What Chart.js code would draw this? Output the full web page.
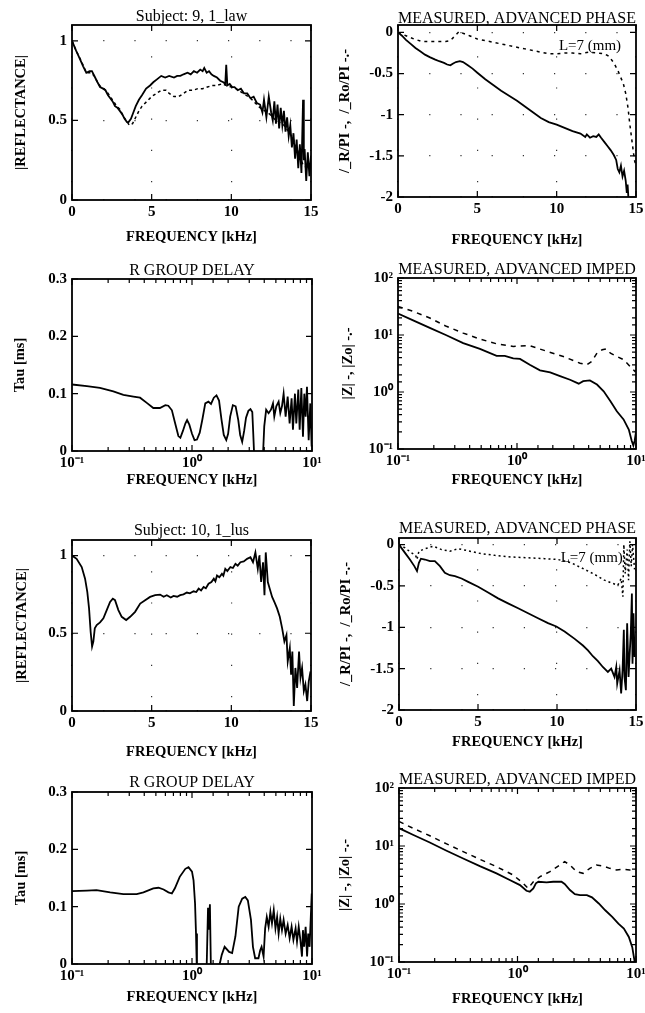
<!DOCTYPE html>
<html>
<head>
<meta charset="utf-8">
<script src="https://cdn.jsdelivr.net/npm/chart.js@4.4.1/dist/chart.umd.min.js"></script>
<style>
  body { margin: 0; background: #fff; width: 645px; height: 1013px; position: relative; overflow: hidden; }
  canvas { position: absolute; }
</style>
</head>
<body>
<canvas id="c1"></canvas>
<canvas id="c2"></canvas>
<canvas id="c3"></canvas>
<canvas id="c4"></canvas>
<canvas id="c5"></canvas>
<canvas id="c6"></canvas>
<canvas id="c7"></canvas>
<canvas id="c8"></canvas>
<script>
// ---- data: [frequency kHz, value] ----

// Subject 9, |reflectance|: measured (solid) and advanced (dashed)
const s9Refl = [[0,1.0],[0.25,0.94],[0.5,0.885],[0.7,0.84],[0.9,0.80],[1.1,0.81],[1.25,0.81],[1.45,0.77],[1.6,0.74],[1.76,0.71],[1.95,0.70],[2.1,0.69],[2.25,0.66],[2.4,0.64],[2.55,0.62],[2.7,0.59],[2.85,0.58],[3.0,0.56],[3.15,0.54],[3.3,0.51],[3.45,0.49],[3.55,0.49],[3.7,0.51],[3.85,0.55],[4.0,0.59],[4.2,0.63],[4.4,0.66],[4.65,0.70],[4.9,0.72],[5.1,0.74],[5.35,0.76],[5.6,0.78],[5.85,0.77],[6.1,0.78],[6.4,0.77],[6.6,0.78],[6.8,0.78],[7.0,0.79],[7.25,0.80],[7.45,0.79],[7.65,0.81],[7.85,0.80],[8.05,0.82],[8.2,0.81],[8.3,0.83],[8.45,0.80],[8.6,0.81],[8.75,0.79],[8.9,0.78],[9.1,0.77],[9.3,0.75],[9.5,0.74],[9.62,0.73],[9.68,0.85],[9.75,0.72],[9.9,0.73],[10.05,0.71],[10.2,0.71],[10.4,0.69],[10.6,0.70],[10.8,0.67],[11.0,0.67],[11.2,0.64],[11.4,0.65],[11.6,0.61],[11.8,0.60],[11.95,0.55],[12.05,0.63],[12.2,0.52],[12.35,0.65],[12.5,0.55],[12.6,0.50],[12.7,0.62],[12.8,0.48],[12.9,0.60],[13.0,0.45],[13.1,0.58],[13.2,0.47],[13.3,0.56],[13.4,0.43],[13.5,0.52],[13.6,0.40],[13.7,0.47],[13.8,0.33],[13.9,0.42],[14.0,0.26],[14.1,0.38],[14.2,0.20],[14.3,0.35],[14.4,0.17],[14.5,0.63],[14.55,0.25],[14.6,0.32],[14.7,0.12],[14.8,0.30],[14.9,0.15],[15.0,0.28]];
const s9ReflAdv = [[0,1.0],[0.3,0.93],[0.6,0.87],[0.9,0.80],[1.2,0.80],[1.4,0.78],[1.6,0.74],[1.8,0.71],[2.0,0.70],[2.2,0.68],[2.4,0.65],[2.6,0.62],[2.8,0.59],[3.0,0.57],[3.2,0.53],[3.4,0.50],[3.6,0.47],[3.8,0.48],[4.0,0.52],[4.2,0.56],[4.4,0.59],[4.7,0.62],[5.0,0.65],[5.3,0.67],[5.6,0.69],[5.9,0.69],[6.1,0.67],[6.4,0.65],[6.7,0.65],[7.0,0.67],[7.3,0.69],[7.6,0.69],[7.9,0.70],[8.2,0.70],[8.5,0.71],[8.8,0.72],[9.1,0.72],[9.4,0.73],[9.7,0.72],[10.0,0.71],[10.3,0.70],[10.6,0.68],[10.9,0.66],[11.2,0.64],[11.5,0.61],[11.8,0.58],[12.1,0.56],[12.4,0.54],[12.7,0.51],[13.0,0.49],[13.3,0.47],[13.6,0.43],[13.9,0.38],[14.2,0.30],[14.5,0.22],[14.8,0.20],[15.0,0.22]];

// Subject 9, phase / PI
const s9Phase = [[0,0],[0.25,-0.04],[0.5,-0.09],[0.8,-0.14],[1.1,-0.19],[1.4,-0.23],[1.7,-0.27],[2.0,-0.30],[2.35,-0.33],[2.6,-0.35],[2.9,-0.37],[3.1,-0.39],[3.3,-0.40],[3.45,-0.38],[3.65,-0.36],[3.9,-0.35],[4.1,-0.36],[4.4,-0.40],[4.7,-0.44],[5.0,-0.49],[5.5,-0.57],[6.0,-0.64],[6.5,-0.71],[7.0,-0.77],[7.5,-0.83],[8.0,-0.90],[8.5,-0.97],[9.0,-1.04],[9.5,-1.09],[10.0,-1.12],[10.5,-1.16],[11.0,-1.20],[11.5,-1.23],[11.8,-1.27],[11.9,-1.24],[12.1,-1.28],[12.3,-1.26],[12.5,-1.27],[12.65,-1.24],[12.8,-1.28],[13.0,-1.33],[13.2,-1.38],[13.4,-1.43],[13.6,-1.49],[13.75,-1.55],[13.85,-1.66],[13.95,-1.70],[14.05,-1.62],[14.15,-1.75],[14.25,-1.68],[14.35,-1.80],[14.42,-1.95],[14.47,-1.85],[14.55,-2.1]];
const s9PhaseAdv = [[0,0],[0.5,-0.04],[1.0,-0.08],[1.5,-0.11],[2.0,-0.11],[2.5,-0.11],[3.0,-0.11],[3.3,-0.10],[3.6,-0.04],[3.85,0.01],[4.1,-0.01],[4.5,-0.04],[5.0,-0.08],[5.5,-0.10],[6.0,-0.12],[6.5,-0.14],[7.0,-0.16],[7.5,-0.18],[8.0,-0.20],[8.5,-0.22],[9.0,-0.24],[9.5,-0.26],[10.0,-0.26],[10.5,-0.25],[11.0,-0.25],[11.5,-0.26],[12.0,-0.24],[12.5,-0.25],[13.0,-0.26],[13.3,-0.29],[13.6,-0.37],[13.85,-0.46],[14.0,-0.53],[14.2,-0.62],[14.35,-0.74],[14.5,-0.92],[14.6,-1.10],[14.7,-1.25],[14.8,-1.40],[14.9,-1.55],[15.0,-1.62]];

// Subject 9, group delay (ms)
const s9Delay = [[0.1,0.116],[0.133,0.113],[0.171,0.110],[0.221,0.104],[0.268,0.098],[0.325,0.095],[0.369,0.093],[0.42,0.084],[0.476,0.075],[0.54,0.075],[0.60,0.080],[0.635,0.079],[0.68,0.071],[0.72,0.050],[0.77,0.026],[0.80,0.023],[0.84,0.035],[0.88,0.048],[0.91,0.054],[0.95,0.046],[1.0,0.030],[1.05,0.019],[1.1,0.020],[1.16,0.032],[1.22,0.055],[1.29,0.083],[1.37,0.086],[1.44,0.082],[1.52,0.093],[1.60,0.097],[1.68,0.088],[1.76,0.055],[1.84,0.028],[1.93,0.019],[2.0,0.030],[2.08,0.060],[2.19,0.080],[2.31,0.078],[2.43,0.054],[2.52,0.028],[2.62,0.016],[2.72,0.035],[2.82,0.058],[2.95,0.070],[3.07,0.073],[3.18,0.068],[3.24,0.030],[3.30,-0.01],[3.9,-0.01],[4.0,0.043],[4.15,0.072],[4.35,0.066],[4.55,0.072],[4.73,0.083],[4.85,0.060],[5.04,0.078],[5.27,0.086],[5.44,0.066],[5.62,0.078],[5.80,0.100],[6.03,0.060],[6.27,0.095],[6.51,0.048],[6.76,0.092],[6.94,0.037],[7.21,0.100],[7.40,0.048],[7.69,0.107],[7.89,0.037],[8.15,0.110],[8.41,0.025],[8.63,0.100],[8.85,0.060],[9.08,0.112],[9.38,0.019],[9.68,0.083],[9.93,0.008]];

// Subject 9, impedance magnitude
const s9Imp = [[0.1,23.7],[0.134,18.1],[0.185,13.3],[0.255,9.9],[0.353,7.2],[0.488,5.7],[0.674,4.3],[0.79,4.3],[0.93,3.9],[1.06,3.8],[1.28,3.0],[1.56,2.4],[1.9,2.2],[2.3,1.9],[2.79,1.64],[3.3,1.40],[3.6,1.55],[4.1,1.60],[4.7,1.35],[5.35,1.03],[6.1,0.69],[6.9,0.46],[7.86,0.33],[8.7,0.22],[9.2,0.14],[9.5,0.115],[9.75,0.14],[10,0.2]];
const s9ImpAdv = [[0.1,31.8],[0.134,26],[0.185,19.9],[0.255,14.2],[0.353,10.8],[0.488,8.5],[0.674,7.0],[0.93,6.3],[1.28,6.5],[1.77,5.2],[2.45,4.2],[3.39,3.2],[3.86,3.0],[4.25,3.45],[4.7,4.8],[5.2,5.5],[5.6,5.7],[6.1,4.8],[6.9,4.2],[7.86,3.7],[8.93,2.8],[9.8,2.3],[10,2.4]];

// Subject 10, |reflectance|
const s10Refl = [[0,1.0],[0.29,0.979],[0.61,0.926],[0.82,0.851],[0.96,0.766],[1.07,0.66],[1.17,0.51],[1.26,0.415],[1.34,0.447],[1.43,0.532],[1.55,0.553],[1.76,0.57],[1.97,0.596],[2.18,0.649],[2.39,0.702],[2.56,0.723],[2.7,0.713],[2.91,0.649],[3.12,0.606],[3.4,0.585],[3.65,0.606],[3.96,0.638],[4.28,0.691],[4.59,0.713],[4.9,0.734],[5.22,0.745],[5.53,0.749],[5.75,0.735],[5.95,0.745],[6.2,0.73],[6.37,0.740],[6.6,0.735],[6.79,0.745],[7.0,0.75],[7.21,0.762],[7.4,0.757],[7.63,0.77],[7.8,0.765],[7.95,0.787],[8.1,0.775],[8.26,0.798],[8.4,0.79],[8.57,0.819],[8.75,0.83],[8.9,0.851],[9.0,0.835],[9.1,0.872],[9.25,0.86],[9.41,0.883],[9.5,0.87],[9.62,0.915],[9.75,0.9],[9.94,0.926],[10.1,0.92],[10.26,0.947],[10.4,0.935],[10.57,0.957],[10.78,0.962],[10.99,0.979],[11.2,0.989],[11.36,0.957],[11.51,1.02],[11.66,0.915],[11.76,1.0],[11.87,0.83],[11.99,0.957],[12.08,0.745],[12.16,1.02],[12.29,0.83],[12.41,0.787],[12.56,0.734],[12.7,0.702],[12.87,0.66],[13.04,0.606],[13.19,0.532],[13.33,0.447],[13.46,0.489],[13.54,0.319],[13.67,0.404],[13.75,0.234],[13.83,0.383],[13.92,0.032],[14.02,0.277],[14.13,0.149],[14.25,0.383],[14.34,0.213],[14.44,0.277],[14.55,0.128],[14.65,0.17],[14.76,0.064],[14.86,0.19],[14.97,0.255]];

// Subject 10, phase / PI
const s10Phase = [[0,0],[0.38,-0.10],[0.69,-0.18],[0.97,-0.26],[1.14,-0.32],[1.26,-0.22],[1.39,-0.17],[1.64,-0.18],[1.96,-0.20],[2.27,-0.20],[2.59,-0.26],[2.9,-0.34],[3.22,-0.37],[3.54,-0.38],[3.96,-0.41],[4.38,-0.45],[5.01,-0.51],[5.64,-0.58],[6.27,-0.65],[6.9,-0.71],[7.54,-0.77],[8.17,-0.83],[8.8,-0.89],[9.43,-0.95],[9.96,-0.99],[10.48,-1.05],[11.12,-1.14],[11.64,-1.22],[11.96,-1.28],[12.27,-1.35],[12.59,-1.41],[12.9,-1.48],[13.22,-1.54],[13.43,-1.50],[13.64,-1.60],[13.75,-1.48],[13.81,-1.68],[13.96,-1.52],[14.06,-1.80],[14.15,-1.52],[14.23,-1.03],[14.27,-1.60],[14.36,-1.76],[14.44,-0.95],[14.53,-1.60],[14.59,-1.36],[14.67,-1.07],[14.74,-0.59],[14.78,-1.44],[14.84,-0.83],[14.91,-1.36]];
const s10PhaseAdv = [[0,0],[0.38,-0.04],[0.8,-0.10],[1.05,-0.13],[1.14,-0.18],[1.26,-0.08],[1.64,-0.05],[2.17,-0.02],[2.69,-0.06],[3.22,-0.08],[3.75,-0.05],[4.27,-0.07],[5.22,-0.11],[6.06,-0.13],[7.12,-0.15],[8.17,-0.16],[9.22,-0.17],[10.06,-0.18],[10.9,-0.22],[11.75,-0.30],[12.38,-0.36],[13.0,-0.43],[13.54,-0.47],[13.85,-0.49],[14.06,-0.41],[14.17,-0.63],[14.23,0.0],[14.32,-0.35],[14.44,-0.06],[14.53,-0.43],[14.61,0.04],[14.7,-0.26],[14.78,0.0],[14.91,-0.30]];

// Subject 10, group delay (ms)
const s10Delay = [[0.1,0.127],[0.133,0.128],[0.16,0.129],[0.208,0.125],[0.268,0.122],[0.346,0.122],[0.394,0.125],[0.476,0.132],[0.526,0.133],[0.58,0.130],[0.636,0.125],[0.68,0.123],[0.72,0.132],[0.79,0.152],[0.88,0.166],[0.935,0.169],[1.0,0.161],[1.03,0.146],[1.06,0.106],[1.08,0.053],[1.10,-0.02],[1.32,-0.02],[1.36,0.098],[1.38,0.06],[1.41,0.104],[1.44,-0.02],[1.66,-0.01],[1.77,0.016],[1.87,0.030],[2.04,0.021],[2.16,0.019],[2.3,0.048],[2.45,0.100],[2.62,0.114],[2.78,0.117],[2.92,0.111],[3.1,0.077],[3.22,0.030],[3.36,0.010],[3.58,0.010],[3.7,0.024],[3.8,0.030],[3.95,0.013],[4.07,0.062],[4.2,0.082],[4.35,0.065],[4.5,0.091],[4.64,0.071],[4.8,0.094],[4.96,0.062],[5.12,0.082],[5.27,0.053],[5.44,0.079],[5.62,0.059],[5.8,0.077],[6.03,0.053],[6.27,0.068],[6.51,0.045],[6.76,0.065],[7.0,0.042],[7.3,0.062],[7.5,0.039],[7.75,0.065],[8.0,0.042],[8.25,0.013],[8.4,0.059],[8.6,0.030],[8.85,0.065],[9.1,0.013],[9.3,0.053],[9.55,0.030],[9.75,0.077],[9.95,0.123]];

// Subject 10, impedance magnitude
const s10Imp = [[0.1,20.3],[0.131,15.6],[0.182,11.5],[0.252,8.3],[0.348,6.1],[0.481,4.5],[0.665,3.38],[0.86,2.59],[1.05,2.12],[1.19,1.69],[1.27,1.63],[1.36,1.86],[1.43,2.27],[1.5,2.42],[1.76,2.36],[2.0,2.42],[2.35,2.42],[2.5,2.21],[2.77,1.74],[3.05,1.48],[3.37,1.42],[3.85,1.42],[4.25,1.30],[4.85,1.02],[5.5,0.78],[6.3,0.60],[7.1,0.46],[7.9,0.377],[8.7,0.270],[9.3,0.18],[9.7,0.107],[9.85,0.087]];
const s10ImpAdv = [[0.1,26.5],[0.131,20.3],[0.182,15.0],[0.252,10.9],[0.348,8.0],[0.481,5.9],[0.665,4.4],[0.92,3.16],[1.12,2.26],[1.23,1.86],[1.36,2.42],[1.55,2.96],[1.88,3.61],[2.28,4.71],[2.5,5.38],[2.77,4.71],[3.15,3.61],[3.58,3.38],[4.08,4.12],[4.63,4.71],[5.3,4.52],[6.0,4.12],[6.85,3.85],[7.8,3.96],[8.85,3.85],[10,3.96]];

// tick values
const linFreqTicks = [0, 5, 10, 15];
const reflTicks = [0, 0.5, 1];
const phaseTicks = [0, -0.5, -1, -1.5, -2];
const delayTicks = [0, 0.1, 0.2, 0.3];

const FONT = '"Liberation Serif", "Times New Roman", serif';
const INK = '#000';
const SUP = { '-1': '10\u207B\u00B9', '0': '10\u2070', '1': '10\u00B9', '2': '10\u00B2' };

// frame box with inward tick marks on all four sides
const frame = {
  id: 'frame',
  afterDatasetsDraw(chart) {
    const { ctx, chartArea: a, scales } = chart;
    const major = (s, v) => s.type !== 'logarithmic' || Math.abs(Math.log10(v) - Math.round(Math.log10(v))) < 1e-6;
    ctx.save();
    ctx.strokeStyle = '#000';
    ctx.lineWidth = 1.8;
    ctx.strokeRect(a.left, a.top, a.right - a.left, a.bottom - a.top);
    ctx.lineWidth = 1.2;
    ctx.beginPath();
    scales.x.ticks.forEach(t => {
      const px = scales.x.getPixelForValue(t.value);
      const len = major(scales.x, t.value) ? 6 : 4;
      ctx.moveTo(px, a.bottom); ctx.lineTo(px, a.bottom - len);
      ctx.moveTo(px, a.top); ctx.lineTo(px, a.top + len);
    });
    scales.y.ticks.forEach(t => {
      const py = scales.y.getPixelForValue(t.value);
      const len = major(scales.y, t.value) ? 6 : 4;
      ctx.moveTo(a.left, py); ctx.lineTo(a.left + len, py);
      ctx.moveTo(a.right, py); ctx.lineTo(a.right - len, py);
    });
    ctx.stroke();
    ctx.restore();
  }
};

// "L=7 (mm)" note placed in data coordinates
const note = {
  id: 'note',
  afterDatasetsDraw(chart, args, o) {
    if (!o || !o.text) return;
    const { ctx, scales } = chart;
    ctx.save();
    ctx.font = '15px ' + FONT;
    ctx.fillStyle = INK;
    ctx.textAlign = 'center';
    ctx.textBaseline = 'middle';
    ctx.fillText(o.text, scales.x.getPixelForValue(o.x), scales.y.getPixelForValue(o.y));
    ctx.restore();
  }
};
Chart.register(frame, note);

const pts = arr => arr.map(p => ({ x: p[0], y: p[1] }));

function line(arr, dash) {
  return {
    data: pts(arr),
    borderColor: INK,
    borderWidth: dash ? 1.5 : 1.8,
    borderDash: dash || [],
    pointRadius: 0,
    tension: 0,
    fill: false
  };
}

function axis(kind, min, max, ticks, title, isX, fitSize, grid) {
  const log = kind === 'log';
  return {
    type: log ? 'logarithmic' : 'linear',
    min: min,
    max: max,
    grid: { display: !!grid, drawTicks: false, color: '#333', lineWidth: 1.2 },
    border: { display: false, dash: [1.2, 30] },
    afterBuildTicks: ticks ? s => { s.ticks = ticks.map(v => ({ value: v })); } : undefined,
    afterFit: s => {
      if (isX) { s.height = fitSize; s.paddingLeft = 0; s.paddingRight = 0; }
      else { s.width = fitSize; s.paddingTop = 0; s.paddingBottom = 0; }
    },
    ticks: {
      autoSkip: false,
      maxRotation: 0,
      padding: isX ? 3 : 5,
      color: INK,
      font: { family: FONT, size: 15, weight: 'bold' },
      callback: v => {
        if (!log) return String(v);
        const e = Math.log10(v);
        return Math.abs(e - Math.round(e)) < 1e-6 ? SUP[String(Math.round(e))] : '';
      }
    },
    title: { display: true, text: title, color: INK, padding: 0, font: { family: FONT, size: 14.5, weight: 'bold' } }
  };
}

function panel(id, p) {
  const lh = 19.2;               // title line height (16px font)
  const ah = 17.4;               // axis title line height (14.5px font)
  const ct = Math.round(p.titleY - lh / 2);
  const ch = Math.round(p.xTitleY + ah / 2 - ct);
  const padL = p.yTitleX - ah / 2 - p.left;
  const padR = p.left + p.width - p.box.r;
  const canvas = document.getElementById(id);
  canvas.width = p.width;
  canvas.height = ch;
  canvas.style.left = p.left + 'px';
  canvas.style.top = ct + 'px';

  new Chart(canvas, {
    type: 'line',
    data: { datasets: p.sets },
    options: {
      responsive: false,
      animation: false,
      events: [],
      layout: { padding: { left: padL, right: padR, top: 0, bottom: 0 } },
      scales: {
        x: axis(p.x[0], p.x[1], p.x[2], p.x[3], 'FREQUENCY [kHz]', true, ch - (p.box.b - ct), p.grid),
        y: axis(p.y[0], p.y[1], p.y[2], p.y[3], p.yTitle, false, p.box.l - p.left - padL, p.grid)
      },
      plugins: {
        legend: { display: false },
        tooltip: { enabled: false },
        title: {
          display: true,
          text: p.title,
          fullSize: false,
          color: INK,
          font: { family: FONT, size: 16, weight: 'normal' },
          padding: { top: 0, bottom: p.box.t - ct - lh }
        },
        note: p.note || {}
      }
    }
  });
}

const L = 0, R = 323, W = 322;

panel('c1', {
  left: L, width: W, box: { l: 72, t: 25, r: 311, b: 200 }, titleY: 16.5, yTitleX: 21, xTitleY: 237.5,
  title: 'Subject: 9, 1_law', yTitle: '|REFLECTANCE|', grid: true,
  x: ['lin', 0, 15, linFreqTicks], y: ['lin', 0, 1.1, reflTicks],
  sets: [line(s9ReflAdv, [3, 3]), line(s9Refl)]
});
panel('c2', {
  left: R, width: W, box: { l: 398, t: 25, r: 636, b: 197 }, titleY: 18.5, yTitleX: 345, xTitleY: 240,
  title: 'MEASURED, ADVANCED PHASE', yTitle: '/_R/PI -,  /_Ro/PI -.-', grid: true,
  x: ['lin', 0, 15, linFreqTicks], y: ['lin', -2, 0.09, phaseTicks],
  note: { text: 'L=7 (mm)', x: 12.1, y: -0.17 },
  sets: [line(s9PhaseAdv, [3, 4]), line(s9Phase)]
});
panel('c3', {
  left: L, width: W, box: { l: 72, t: 279, r: 312, b: 451 }, titleY: 271, yTitleX: 20, xTitleY: 480,
  title: 'R GROUP DELAY', yTitle: 'Tau [ms]',
  x: ['log', 0.1, 10], y: ['lin', 0, 0.3, delayTicks],
  sets: [line(s9Delay)]
});
panel('c4', {
  left: R, width: W, box: { l: 398, t: 278, r: 636, b: 449 }, titleY: 270, yTitleX: 348, xTitleY: 480,
  title: 'MEASURED, ADVANCED IMPED', yTitle: '|Z| -, |Zo| -.-',
  x: ['log', 0.1, 10], y: ['log', 0.1, 100],
  sets: [line(s9ImpAdv, [5, 5]), line(s9Imp)]
});
panel('c5', {
  left: L, width: W, box: { l: 72, t: 540, r: 311, b: 711 }, titleY: 531, yTitleX: 22, xTitleY: 752,
  title: 'Subject: 10, 1_lus', yTitle: '|REFLECTANCE|', grid: true,
  x: ['lin', 0, 15, linFreqTicks], y: ['lin', 0, 1.1, reflTicks],
  sets: [line(s10Refl)]
});
panel('c6', {
  left: R, width: W, box: { l: 399, t: 538, r: 636, b: 710 }, titleY: 529, yTitleX: 346, xTitleY: 742,
  title: 'MEASURED, ADVANCED PHASE', yTitle: '/_R/PI -,  /_Ro/PI -.-', grid: true,
  x: ['lin', 0, 15, linFreqTicks], y: ['lin', -2, 0.08, phaseTicks],
  note: { text: 'L=7 (mm)', x: 12.2, y: -0.16 },
  sets: [line(s10PhaseAdv, [2, 3]), line(s10Phase)]
});
panel('c7', {
  left: L, width: W, box: { l: 72, t: 792, r: 312, b: 964 }, titleY: 783, yTitleX: 21, xTitleY: 997,
  title: 'R GROUP DELAY', yTitle: 'Tau [ms]',
  x: ['log', 0.1, 10], y: ['lin', 0, 0.3, delayTicks],
  sets: [line(s10Delay)]
});
panel('c8', {
  left: R, width: W, box: { l: 399, t: 788, r: 636, b: 962 }, titleY: 780, yTitleX: 345, xTitleY: 999,
  title: 'MEASURED, ADVANCED IMPED', yTitle: '|Z| -, |Zo| -.-',
  x: ['log', 0.1, 10], y: ['log', 0.1, 100],
  sets: [line(s10ImpAdv, [5, 5]), line(s10Imp)]
});
</script>
</body>
</html>
